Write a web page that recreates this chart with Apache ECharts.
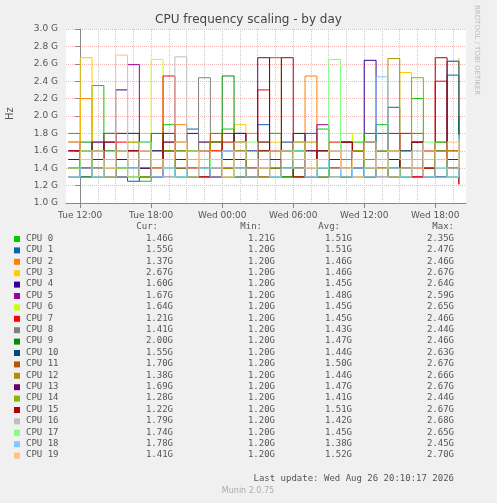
<!DOCTYPE html>
<html><head><meta charset="utf-8">
<script src="https://cdn.jsdelivr.net/npm/echarts@6/dist/echarts.min.js"></script>
<style>html,body{margin:0;padding:0;background:#f0f0f0}#c{width:497px;height:503px}</style>
</head><body><div id="c"></div>
<script>
const names=["CPU 0","CPU 1","CPU 2","CPU 3","CPU 4","CPU 5","CPU 6","CPU 7","CPU 8","CPU 9","CPU 10","CPU 11","CPU 12","CPU 13","CPU 14","CPU 15","CPU 16","CPU 17","CPU 18","CPU 19"];
const colors=["#00CC00","#0066B3","#FF8000","#FFCC00","#330099","#990099","#CCFF00","#FF0000","#808080","#008F00","#00487D","#B35A00","#B38F00","#6B006B","#8FB300","#B30000","#BEBEBE","#80FF80","#80C9FF","#FFC080"];
const curV=["1.46G","1.55G","1.37G","2.67G","1.60G","1.67G","1.64G","1.21G","1.41G","2.00G","1.55G","1.70G","1.38G","1.69G","1.28G","1.22G","1.79G","1.74G","1.78G","1.41G"];
const minV=["1.21G","1.20G","1.20G","1.20G","1.20G","1.20G","1.20G","1.20G","1.20G","1.20G","1.20G","1.20G","1.20G","1.20G","1.20G","1.20G","1.20G","1.20G","1.20G","1.20G"];
const avgV=["1.51G","1.51G","1.46G","1.46G","1.45G","1.48G","1.45G","1.45G","1.43G","1.47G","1.44G","1.50G","1.44G","1.47G","1.41G","1.51G","1.42G","1.45G","1.38G","1.52G"];
const maxV=["2.35G","2.47G","2.46G","2.67G","2.64G","2.59G","2.65G","2.46G","2.44G","2.46G","2.63G","2.67G","2.66G","2.67G","2.44G","2.67G","2.68G","2.65G","2.45G","2.70G"];
const hours=[-1,0,1,2,3,4,5,6,7,8,9,10,11,12,13,14,15,16,17,18,19,20,21,22,23,24,25,26,27,28,29,30,31,32];
const s0=[1.8,1.3,2.35,1.5,1.4,1.8,1.25,1.6,1.9,1.4,1.3,1.7,1.5,1.85,1.3,1.5,1.4,1.8,1.3,1.6,1.5,1.85,1.4,1.3,1.7,1.5,1.9,1.4,1.3,2.2,1.5,1.6,1.4,1.46];
const s1=[1.6,1.4,1.3,1.8,1.5,1.25,1.7,1.4,1.6,1.3,1.85,1.5,1.4,1.3,1.7,1.5,1.9,1.3,1.4,1.6,1.8,1.3,1.5,1.7,1.4,1.3,1.8,2.1,1.5,1.4,1.3,1.6,2.47,1.55];
const s2=[1.7,2.2,1.5,1.3,1.8,1.4,1.6,1.3,1.5,1.9,1.4,1.3,1.7,1.5,1.4,1.8,1.3,1.6,1.4,1.3,2.46,1.5,1.4,1.7,1.3,1.5,1.6,1.4,1.8,1.3,1.5,1.4,1.6,1.37];
const s3=[1.5,2.67,1.4,1.3,1.6,1.5,1.8,1.3,1.4,1.7,1.5,1.3,1.6,1.4,1.9,1.3,1.5,1.7,1.4,1.3,1.5,1.6,1.4,1.8,1.3,1.5,1.4,1.6,2.5,1.3,1.5,1.4,1.6,2.67];
const s4=[1.3,1.5,1.4,1.7,2.3,1.4,1.3,1.6,1.5,1.4,1.8,1.3,1.5,1.6,1.4,1.3,1.7,1.5,1.4,1.8,1.3,1.5,1.4,1.3,1.6,2.64,1.4,1.5,1.3,1.7,1.4,1.5,1.3,1.6];
const s5=[1.4,1.6,1.3,1.5,1.8,2.59,1.4,1.3,1.6,1.5,1.4,1.7,1.3,1.5,1.8,1.4,1.3,1.6,1.5,1.4,1.3,1.9,1.5,1.4,1.6,1.3,1.5,1.8,1.4,1.3,1.6,1.5,1.4,1.67];
const s6=[1.5,1.3,1.6,1.4,1.3,1.7,1.5,2.65,1.4,1.3,1.6,1.5,1.8,1.4,1.3,1.5,1.6,1.4,1.3,1.7,1.5,1.4,1.6,1.3,1.8,1.5,1.4,1.3,1.6,1.5,1.4,1.7,1.3,1.64];
const s7=[1.6,1.4,1.3,1.5,1.7,1.4,1.6,1.3,2.46,1.5,1.4,1.3,1.6,1.8,1.4,1.5,2.3,1.3,1.6,1.4,1.5,1.3,1.7,1.4,1.6,1.3,1.5,1.4,1.8,1.3,1.6,2.4,1.5,1.21];
const s8=[1.3,1.5,1.7,1.4,1.3,1.6,1.5,1.4,1.3,1.7,1.5,2.44,1.4,1.3,1.6,1.5,1.4,1.8,1.3,1.5,1.4,1.6,1.3,1.5,1.4,1.7,1.3,1.5,1.6,1.4,1.3,1.5,1.4,1.41];
const s9=[1.5,1.7,1.4,1.6,1.3,1.5,1.4,1.8,1.6,1.3,1.5,1.4,1.7,2.46,1.3,1.5,1.6,1.4,1.3,1.7,1.5,1.4,1.6,1.3,1.5,1.8,1.4,1.6,1.3,1.5,1.4,1.7,1.5,2.0];
const s10=[1.4,1.3,1.6,1.5,1.4,1.8,1.3,1.5,1.4,1.6,1.3,1.5,1.7,1.4,1.3,1.6,1.5,1.4,1.7,1.3,1.5,1.6,1.4,1.3,1.5,1.7,1.4,1.3,1.6,1.5,1.4,1.3,2.63,1.55];
const s11=[1.7,1.5,1.4,1.8,1.6,1.3,1.5,1.4,1.7,1.5,1.3,1.6,1.8,1.4,1.5,1.3,1.7,2.67,1.4,1.5,1.6,1.3,1.4,1.7,1.5,1.4,1.6,1.3,1.5,1.8,1.4,1.5,1.6,1.7];
const s12=[1.4,1.6,1.3,1.5,1.4,1.7,1.3,1.5,1.6,1.4,1.3,1.5,1.7,1.4,1.6,1.3,1.5,1.4,1.6,1.3,1.7,1.5,1.4,1.3,1.6,1.5,1.4,2.66,1.3,1.5,1.4,1.6,1.3,1.38];
const s13=[1.5,1.4,1.7,1.3,1.5,1.6,1.4,1.3,1.7,1.5,1.4,1.6,1.3,1.5,1.8,1.4,2.67,1.3,1.5,1.4,1.6,1.3,1.5,1.7,1.4,1.3,1.6,1.5,1.4,1.7,1.3,1.5,1.4,1.69];
const s14=[1.3,1.4,1.5,1.3,1.6,1.4,1.3,1.5,1.4,1.6,1.3,1.4,1.5,1.3,1.7,1.4,1.3,1.5,1.6,1.4,1.3,1.5,1.4,1.3,1.6,1.4,1.5,1.3,1.4,2.44,1.3,1.5,1.4,1.28];
const s15=[1.6,1.4,1.5,1.7,1.3,1.6,1.5,1.4,1.8,1.5,1.6,1.4,1.3,1.7,1.5,1.4,1.6,1.5,2.67,1.3,1.5,1.6,1.4,1.7,1.5,1.3,1.6,1.4,1.5,1.7,1.4,2.67,1.5,1.22];
const s16=[1.3,1.5,1.4,1.3,1.6,1.4,1.5,1.3,1.4,2.68,1.3,1.5,1.4,1.6,1.3,1.4,1.5,1.3,1.6,1.4,1.3,1.5,1.4,1.6,1.3,1.4,1.5,1.3,1.4,1.6,1.3,1.5,1.4,1.79];
const s17=[1.4,1.6,1.3,1.5,1.4,1.3,1.7,1.5,1.4,1.3,1.6,1.4,1.5,1.3,1.4,1.7,1.5,1.3,1.4,1.6,1.5,1.3,2.65,1.4,1.5,1.3,1.6,1.4,1.3,1.5,1.7,1.4,1.3,1.74];
const s18=[1.3,1.4,1.3,1.5,1.3,1.4,1.6,1.3,1.4,1.3,1.5,1.4,1.3,1.6,1.4,1.3,1.5,1.3,1.4,1.5,1.3,1.4,1.6,1.3,1.4,1.3,2.45,1.4,1.3,1.5,1.3,1.4,1.3,1.78];
const s19=[1.7,1.5,1.6,1.4,2.7,1.5,1.6,1.4,1.5,1.7,1.4,1.6,1.5,1.3,1.7,1.5,1.4,1.6,1.5,1.7,1.4,1.5,1.6,1.4,1.5,1.7,1.4,1.6,1.5,1.4,1.6,1.5,1.7,1.41];
const values=[s0,s1,s2,s3,s4,s5,s6,s7,s8,s9,s10,s11,s12,s13,s14,s15,s16,s17,s18,s19];
const xTickValues=[0,6,12,18,24,30];
const xTickLabels=["Tue 12:00","Tue 18:00","Wed 00:00","Wed 06:00","Wed 12:00","Wed 18:00"];
const xGridValues=[0,1.5,3,4.5,6,7.5,9,10.5,12,13.5,15,16.5,18,19.5,21,22.5,24,25.5,27,28.5,30,31.5];

const series=values.map((v,i)=>({name:names[i],type:'line',step:'end',showSymbol:false,silent:true,
  lineStyle:{width:1,color:colors[i]},itemStyle:{color:colors[i]},
  data:v.map((y,j)=>[hours[j],y])}));

const f='DejaVu Sans';
const g=[];
const colX=[173,275,352,454], head=["Cur:","Min:","Avg:","Max:"], headX=[158,262,340,454];
head.forEach((h,k)=>g.push({type:'text',x:headX[k],y:222,style:{text:h,font:'9px DejaVu Sans Mono',fill:'#555',align:'right'}}));
names.forEach((n,i)=>{
  const y=234+i*11.4;
  g.push({type:'rect',shape:{x:14,y:y+2,width:6,height:6},style:{fill:colors[i]}});
  g.push({type:'text',x:26,y:y,style:{text:n,font:'9px DejaVu Sans Mono',fill:'#555'}});
  [curV[i],minV[i],avgV[i],maxV[i]].forEach((t,k)=>g.push({type:'text',x:colX[k],y:y,style:{text:t,font:'9px DejaVu Sans Mono',fill:'#555',align:'right'}}));
});
g.push({type:'text',x:454,y:474,style:{text:'Last update: Wed Aug 26 20:10:17 2026',font:'9px DejaVu Sans Mono',fill:'#555',align:'right'}});
g.push({type:'text',x:248,y:487,style:{text:'Munin 2.0.75',font:'8px DejaVu Sans',fill:'#aaa',align:'center'}});
g.push({type:'text',x:480,y:5,rotation:-Math.PI/2,style:{text:'RRDTOOL / TOBI OETIKER',font:'7px DejaVu Sans',fill:'#bbb'}});
g.push({type:'text',x:5,y:120,rotation:Math.PI/2,style:{text:'Hz',font:'10px DejaVu Sans',fill:'#555'}});

const chart=echarts.init(document.getElementById('c'));
chart.setOption({
  backgroundColor:'#f0f0f0',animation:false,
  title:{text:'CPU frequency scaling - by day',left:'center',top:9,textStyle:{fontFamily:f,fontSize:12,fontWeight:'normal',color:'#444'}},
  grid:{left:66,right:31,top:29,height:174,backgroundColor:'#fff',show:true,borderWidth:0},
  xAxis:[{type:'value',min:-1.2,max:32.6,
    axisLine:{lineStyle:{color:'#888'}},
    axisTick:{show:true,customValues:xTickValues,lineStyle:{color:'#888'}},
    axisLabel:{fontFamily:f,fontSize:9,color:'#555',customValues:xTickValues,formatter:v=>xTickLabels[xTickValues.indexOf(v)]||''},
    splitLine:{show:false}},
   {type:'value',min:-1.2,max:32.6,position:'bottom',show:true,
    axisLine:{show:false},axisTick:{show:false,customValues:xGridValues},axisLabel:{show:false,customValues:xGridValues},
    splitLine:{show:true,lineStyle:{color:'#f2b8b8',type:'dotted'}}}],
  yAxis:{type:'value',min:1.0,max:3.0,interval:0.2,
    axisLine:{show:true,lineStyle:{color:'#888'}},axisTick:{show:true},
    axisLabel:{fontFamily:f,fontSize:9,color:'#555',formatter:v=>v.toFixed(1)+' G'},
    splitLine:{lineStyle:{color:'#f2b8b8',type:'dotted'}}},
  series:series,graphic:g
});
</script></body></html>
